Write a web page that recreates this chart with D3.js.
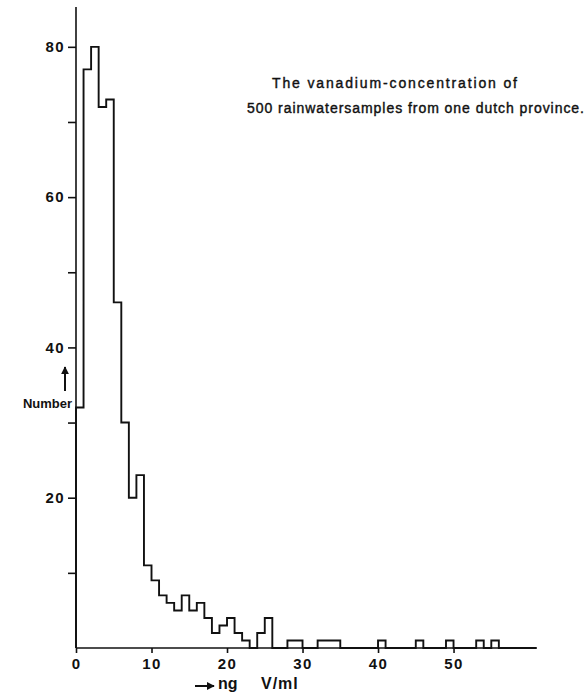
<!DOCTYPE html>
<html>
<head>
<meta charset="utf-8">
<script src="https://cdn.jsdelivr.net/npm/d3@7"></script>
<style>
  html, body { margin: 0; padding: 0; background: #fff; }
  svg { display: block; }
  text { font-family: "Liberation Sans", Arial, Helvetica, sans-serif; fill: #111; }
</style>
</head>
<body>
<svg id="chart" width="587" height="698"></svg>
<script>
// Number of rainwater samples per 1 ng V/ml class (class i covers i .. i+1)
const binStart = 0;
const binWidth = 1;
const counts = [
  32, 77, 80, 72, 73, 46, 30, 20, 23, 11,
   9,  7,  6,  5,  7,  5,  6,  4,  2,  3,
   4,  2,  1,  0,  2,  4,  0,  0,  1,  1,
   0,  0,  1,  1,  1,  0,  0,  0,  0,  0,
   1,  0,  0,  0,  0,  1,  0,  0,  0,  1,
   0,  0,  0,  1,  0,  1,  0,  0,  0,  0,
   0
];

const xTickValues = [0, 10, 20, 30, 40, 50];
const yTickValues = [20, 40, 60, 80];
const yMinorTickValues = [10, 30, 50, 70];

const titleLines = [
  "The vanadium-concentration of",
  "500 rainwatersamples from one dutch province."
];
const yLabel = "Number";
const xLabelUnit = ["ng", "V/ml"];

const svg = d3.select("#chart");

const x = d3.scaleLinear()
  .domain([0, 61])
  .range([76, 536.6]);

const y = d3.scaleLinear()
  .domain([0, 85.3])
  .range([648, 7]);

const ink = "#111";

// axes lines
svg.append("line")
  .attr("x1", x(0)).attr("x2", x(0))
  .attr("y1", y(0)).attr("y2", y(85.3))
  .attr("stroke", ink).attr("stroke-width", 1.6);

svg.append("line")
  .attr("x1", x(0)).attr("x2", x(61))
  .attr("y1", y(0)).attr("y2", y(0))
  .attr("stroke", ink).attr("stroke-width", 1.6);

function styleTickText(sel) {
  sel.attr("font-family", "Liberation Sans, Arial, sans-serif")
    .attr("font-size", 15)
    .attr("font-weight", "bold")
    .attr("letter-spacing", 1.4)
    .attr("fill", ink);
}

// y ticks (labelled and unlabelled)
const yAxis = d3.axisLeft(y)
  .tickValues(yTickValues)
  .tickSize(8)
  .tickSizeOuter(0)
  .tickPadding(3)
  .tickFormat(d3.format("d"));

const yg = svg.append("g")
  .attr("transform", `translate(${x(0)},0)`)
  .call(yAxis);
yg.select(".domain").remove();
yg.selectAll(".tick line").attr("stroke", ink).attr("stroke-width", 1.6);
yg.selectAll(".tick text").call(styleTickText);

const yMinor = d3.axisLeft(y)
  .tickValues(yMinorTickValues)
  .tickSize(8)
  .tickSizeOuter(0)
  .tickFormat("");
const ymg = svg.append("g")
  .attr("transform", `translate(${x(0)},0)`)
  .call(yMinor);
ymg.select(".domain").remove();
ymg.selectAll(".tick line").attr("stroke", ink).attr("stroke-width", 1.6);

// x ticks
const xAxis = d3.axisBottom(x)
  .tickValues(xTickValues)
  .tickSize(5)
  .tickSizeOuter(0)
  .tickPadding(5)
  .tickFormat(d3.format("d"));

const xg = svg.append("g")
  .attr("transform", `translate(0,${y(0)})`)
  .call(xAxis);
xg.select(".domain").remove();
xg.selectAll(".tick line").attr("stroke", ink).attr("stroke-width", 1.6);
xg.selectAll(".tick text").call(styleTickText);

// histogram outline as a step line
const pts = [[binStart, 0]];
counts.forEach((c, i) => {
  const x0 = binStart + i * binWidth;
  pts.push([x0, c]);
  pts.push([x0 + binWidth, c]);
});
pts.push([binStart + counts.length * binWidth, 0]);

const line = d3.line()
  .x(d => x(d[0]))
  .y(d => y(d[1]));

svg.append("path")
  .attr("d", line(pts))
  .attr("fill", "none")
  .attr("stroke", ink)
  .attr("stroke-width", 1.9)
  .attr("stroke-linejoin", "miter");

// title
svg.append("text")
  .attr("x", 272).attr("y", 88)
  .attr("font-size", 14)
  .attr("stroke", ink).attr("stroke-width", 0.4)
  .attr("textLength", 245)
  .attr("lengthAdjust", "spacing")
  .text(titleLines[0]);
svg.append("text")
  .attr("x", 247).attr("y", 113)
  .attr("font-size", 14)
  .attr("stroke", ink).attr("stroke-width", 0.4)
  .attr("textLength", 337)
  .attr("lengthAdjust", "spacing")
  .text(titleLines[1]);

// arrow marker
const defs = svg.append("defs");
defs.append("marker")
  .attr("id", "arrowhead")
  .attr("viewBox", "0 0 10 10")
  .attr("refX", 9).attr("refY", 5)
  .attr("markerWidth", 4).attr("markerHeight", 4)
  .attr("markerUnits", "strokeWidth")
  .attr("orient", "auto")
  .append("path")
  .attr("d", "M0,0 L10,5 L0,10 Z")
  .attr("fill", ink);

// y label with upward arrow
svg.append("line")
  .attr("x1", 65).attr("y1", 391)
  .attr("x2", 65).attr("y2", 367)
  .attr("stroke", ink).attr("stroke-width", 2)
  .attr("marker-end", "url(#arrowhead)");
svg.append("text")
  .attr("x", 72).attr("y", 408)
  .attr("text-anchor", "end")
  .attr("font-size", 13)
  .attr("font-weight", "bold")
  .text(yLabel);

// x label with rightward arrow
svg.append("line")
  .attr("x1", 195).attr("y1", 686)
  .attr("x2", 214).attr("y2", 686)
  .attr("stroke", ink).attr("stroke-width", 2)
  .attr("marker-end", "url(#arrowhead)");
svg.append("text")
  .attr("x", 218).attr("y", 689)
  .attr("font-size", 16)
  .attr("font-weight", "bold")
  .text(xLabelUnit[0]);
svg.append("text")
  .attr("x", 261).attr("y", 689)
  .attr("font-size", 16)
  .attr("font-weight", "bold")
  .attr("letter-spacing", 1)
  .text(xLabelUnit[1]);
</script>
</body>
</html>
